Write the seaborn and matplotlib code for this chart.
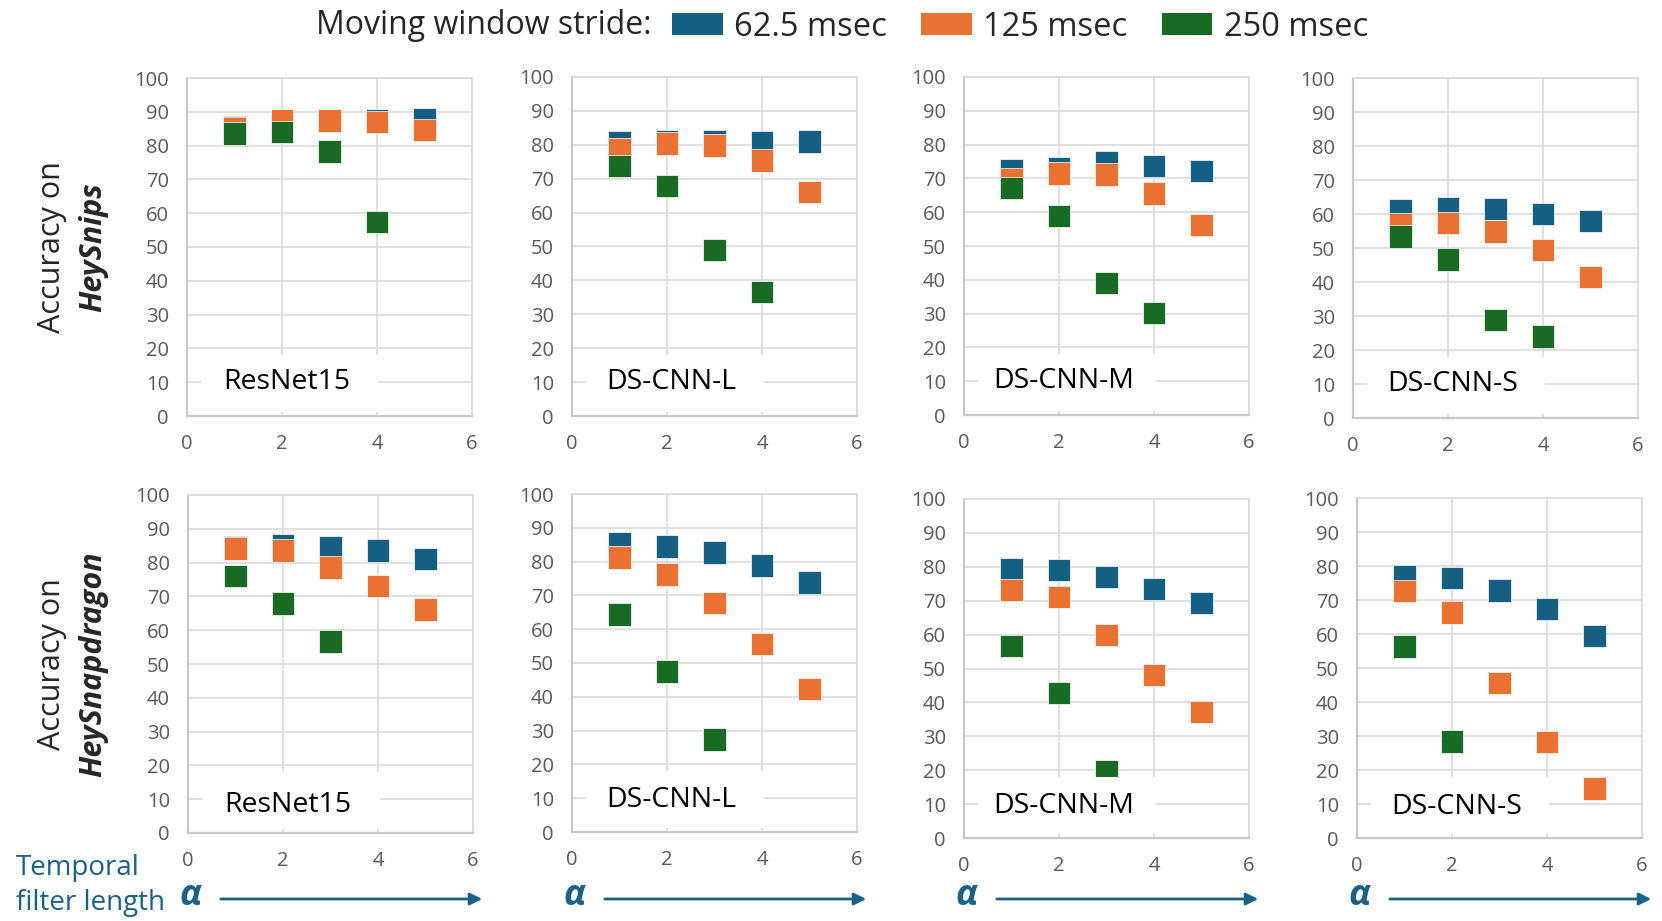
import numpy as np
import pandas as pd
import seaborn as sns
import matplotlib.pyplot as plt
from matplotlib.patches import Patch, Rectangle, FancyArrowPatch

nan = np.nan

alpha = [1, 2, 3, 4, 5]
models = ["ResNet15", "DS-CNN-L", "DS-CNN-M", "DS-CNN-S"]
datasets = ["HeySnips", "HeySnapdragon"]
strides = ["62.5 msec", "125 msec", "250 msec"]
colors = ["#156082", "#E97132", "#196B24"]

# accuracy per stride (rows: 62.5, 125, 250 msec), columns: alpha 1..5
snips_resnet15 = [[85.5, 87.0, 87.2, 87.6, 87.7],
                  [85.2, 87.4, 87.4, 86.9, 84.7],
                  [83.6, 84.1, 78.3, 57.4, nan]]
snips_dscnn_l = [[80.7, 81.2, 81.2, 80.9, 81.0],
                 [78.6, 80.4, 79.8, 75.4, 66.0],
                 [73.8, 67.8, 48.9, 36.6, nan]]
snips_dscnn_m = [[72.5, 73.0, 74.9, 73.6, 72.2],
                 [69.9, 71.4, 71.2, 65.5, 56.3],
                 [67.2, 58.9, 39.0, 30.2, nan]]
snips_dscnn_s = [[61.2, 61.8, 61.4, 60.0, 58.0],
                 [57.1, 57.4, 54.9, 49.5, 41.4],
                 [53.4, 46.6, 28.9, 24.0, nan]]

snap_resnet15 = [[84.5, 85.2, 84.5, 83.6, 81.0],
                 [84.2, 83.6, 78.6, 73.0, 66.1],
                 [76.1, 67.9, 56.7, nan, nan]]
snap_dscnn_l = [[85.3, 84.5, 82.7, 78.9, 73.8],
                [81.2, 76.2, 67.8, 55.7, 42.3],
                [64.4, 47.5, 27.4, nan, nan]]
snap_dscnn_m = [[79.3, 79.1, 77.0, 73.4, 69.3],
                [73.2, 71.1, 59.9, 48.1, 37.1],
                [56.7, 42.7, 19.6, nan, nan]]
snap_dscnn_s = [[77.1, 76.5, 72.8, 67.4, 59.5],
                [72.7, 66.3, 45.6, 28.3, 14.6],
                [56.3, 28.4, nan, nan, nan]]

panels = [[snips_resnet15, snips_dscnn_l, snips_dscnn_m, snips_dscnn_s],
          [snap_resnet15, snap_dscnn_l, snap_dscnn_m, snap_dscnn_s]]

rows = []
for d, name in enumerate(datasets):
    for m, model in enumerate(models):
        for s, stride in enumerate(strides):
            for a, acc in zip(alpha, panels[d][m][s]):
                rows.append({"dataset": name, "model": model, "stride": stride,
                             "alpha": a, "accuracy": acc})
df = pd.DataFrame(rows).dropna()

sns.set_theme(style="white")
plt.rcParams['font.family'] = ['Open Sans', 'DejaVu Sans']

W, H = 1662, 921
fig = plt.figure(figsize=(W / 100, H / 100), dpi=100)

# axes boxes in pixels: left, top, bottom
lefts = [[187, 572, 964, 1353], [188, 572, 964, 1357]]
tops = [[78, 77, 77, 78], [495, 494, 499, 498]]
bottoms = [[416, 416, 415, 418], [833, 832, 838, 838]]
label_y = [[10, 10, 10, 10], [8.2, 9.6, 9.4, 9.2]]
pw = 285

palette = dict(zip(strides, colors))
grid_c = "#d9d9d9"
tick_c = "#595959"
blue_txt = "#1a6185"

for r, name in enumerate(datasets):
    for c, model in enumerate(models):
        l, t, b = lefts[r][c], tops[r][c], bottoms[r][c]
        ax = fig.add_axes([l / W, 1 - b / H, pw / W, (b - t) / H])
        sub = df[(df.dataset == name) & (df.model == model)]
        sns.scatterplot(data=sub, x="alpha", y="accuracy", hue="stride",
                        hue_order=strides, palette=palette, marker="s", s=260,
                        edgecolor="white", linewidth=0.5, legend=False, ax=ax,
                        zorder=3)
        ax.set_xlim(0, 6)
        ax.set_ylim(0, 100)
        ax.set_xticks([0, 2, 4, 6])
        ax.set_yticks(range(0, 101, 10))
        ax.grid(True, color=grid_c, linewidth=1.2)
        ax.set_axisbelow(True)
        ax.set_xlabel("")
        ax.set_ylabel("")
        for side in ["top", "right"]:
            ax.spines[side].set_color(grid_c)
            ax.spines[side].set_linewidth(1.2)
        for side in ["left", "bottom"]:
            ax.spines[side].set_color("#c8c8c8")
            ax.spines[side].set_linewidth(1.6)
        ax.tick_params(length=0, labelsize=14.5, colors=tick_c, pad=13)
        ax.add_patch(Rectangle((0.3, 1.2), 3.75, 16.8, facecolor="white",
                               edgecolor="none", zorder=4))
        ax.text(2.1, label_y[r][c], model, ha="center", va="center",
                fontsize=20.5, color="black", zorder=5)

    yc = 1 - (tops[r][0] + bottoms[r][0]) / 2 / H
    fig.text(52 / W, yc, "Accuracy on", rotation=90, ha="center", va="center",
             fontsize=22)
    fig.text(93 / W, yc, name, rotation=90, ha="center", va="center",
             fontsize=22, fontweight="bold", fontstyle="italic")

# legend on top
fig.text(316 / W, 1 - 26 / H, "Moving window stride:", ha="left", va="center",
         fontsize=23)
handles = [Patch(facecolor=col, edgecolor="none") for col in colors]
fig.legend(handles, strides, loc="center left", bbox_to_anchor=(672 / W, 1 - 27 / H),
           ncol=3, frameon=False, fontsize=23.5, handlelength=1.55,
           handleheight=0.65, handletextpad=0.35, columnspacing=1.05,
           borderaxespad=0, borderpad=0)

# temporal filter length arrows
fig.text(16 / W, 1 - 868 / H, "Temporal", ha="left", va="center",
         fontsize=20, color=blue_txt)
fig.text(16 / W, 1 - 903 / H, "filter length", ha="left", va="center",
         fontsize=20, color=blue_txt)
for c in range(4):
    l = lefts[1][c]
    fig.text((l + 2) / W, 1 - 896 / H, "α", ha="center", va="center",
             fontsize=26, fontweight="bold", fontstyle="italic", color=blue_txt)
    fig.patches.append(FancyArrowPatch(
        ((l + 30) / W, 1 - 899 / H), ((l + 297) / W, 1 - 899 / H),
        transform=fig.transFigure, arrowstyle="-|>", mutation_scale=18,
        color=blue_txt, linewidth=2))

fig.savefig("out.png", dpi=100)
